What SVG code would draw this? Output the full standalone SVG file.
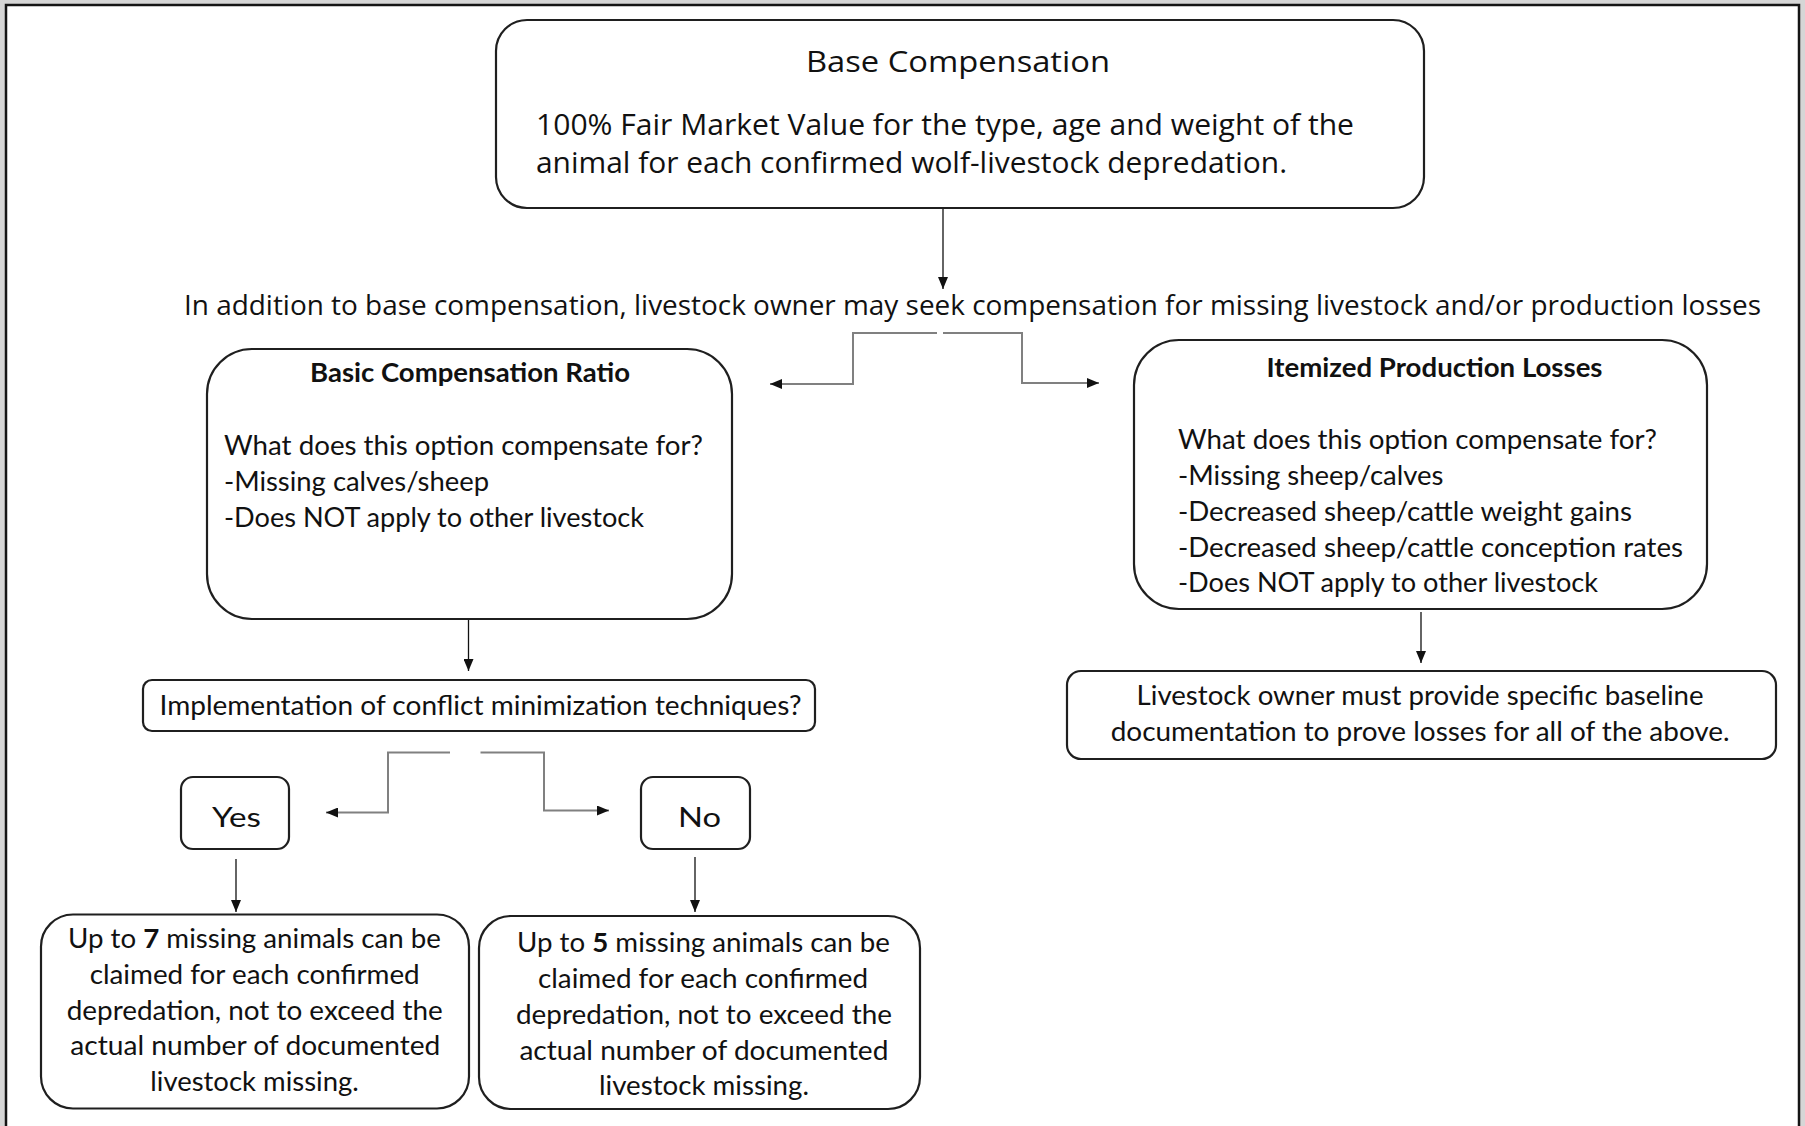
<svg xmlns="http://www.w3.org/2000/svg" width="1805" height="1126" viewBox="0 0 1805 1126">
<style>
.box{fill:#fff;stroke:#1f1f1f;stroke-width:2.2}
.t{font-family:Lato,"Liberation Sans",sans-serif;font-size:27px;fill:#111}
.b{font-weight:bold}
.s{font-family:"Open Sans","Noto Sans",sans-serif;fill:#111}
.cg{stroke:#808080;stroke-width:2;fill:none}
.cb{stroke:#111;stroke-width:1.3;fill:none}
</style>
<defs>
<marker id="ah" markerUnits="userSpaceOnUse" markerWidth="12" markerHeight="10" refX="12" refY="5" orient="auto">
<path d="M0,0 L12,5 L0,10 Z" fill="#111"/>
</marker>
</defs>
<rect x="0" y="0" width="1805" height="1126" fill="#d6d6d6"/>
<rect x="6" y="5" width="1793" height="1130" fill="#fff" stroke="#151515" stroke-width="2.5"/>

<g id="connectors">
<line class="cb" x1="943" y1="208" x2="943" y2="289" marker-end="url(#ah)"/>
<path class="cg" d="M937,333 H853 V384 H770" marker-end="url(#ah)"/>
<path class="cg" d="M943,333 H1022 V383 H1099" marker-end="url(#ah)"/>
<line class="cb" x1="468.5" y1="619" x2="468.5" y2="671" marker-end="url(#ah)"/>
<path class="cg" d="M450,752.5 H388 V812.5 H326" marker-end="url(#ah)"/>
<path class="cg" d="M480.5,752.5 H544 V810.5 H609" marker-end="url(#ah)"/>
<line class="cb" x1="236" y1="859" x2="236" y2="912" marker-end="url(#ah)"/>
<line class="cb" x1="695" y1="857" x2="695" y2="912" marker-end="url(#ah)"/>
<line class="cb" x1="1421" y1="612" x2="1421" y2="663" marker-end="url(#ah)"/>
</g>

<g id="base">
<rect class="box" x="496" y="20" width="928" height="188" rx="31"/>
<text class="s" x="806" y="72" font-size="29.5" textLength="304" lengthAdjust="spacingAndGlyphs">Base Compensation</text>
<text class="s" x="536" y="135" font-size="28.5" textLength="818" lengthAdjust="spacingAndGlyphs">100% Fair Market Value for the type, age and weight of the</text>
<text class="s" x="536" y="173" font-size="28.5" textLength="751" lengthAdjust="spacingAndGlyphs">animal for each confirmed wolf-livestock depredation.</text>
</g>

<g id="addition">
<text class="s" x="184" y="315" font-size="27" textLength="1577" lengthAdjust="spacingAndGlyphs">In addition to base compensation, livestock owner may seek compensation for missing livestock and/or production losses</text>
</g>

<g id="basic">
<rect class="box" x="207" y="349" width="525" height="270" rx="45"/>
<text class="t b" x="310" y="382" textLength="320" lengthAdjust="spacingAndGlyphs">Basic Compensation Ratio</text>
<text class="t" x="224" y="455" textLength="479" lengthAdjust="spacingAndGlyphs">What does this option compensate for?</text>
<text class="t" x="224" y="491" textLength="265" lengthAdjust="spacingAndGlyphs">-Missing calves/sheep</text>
<text class="t" x="224" y="527" textLength="420" lengthAdjust="spacingAndGlyphs">-Does NOT apply to other livestock</text>
</g>

<g id="implementation">
<rect class="box" x="143" y="680" width="672" height="51" rx="9"/>
<text class="t" x="159.5" y="715" textLength="642" lengthAdjust="spacingAndGlyphs">Implementation of conflict minimization techniques?</text>
</g>

<g id="yes">
<rect class="box" x="181" y="777" width="108" height="72" rx="12"/>
<text class="t" x="212" y="827" font-size="34" textLength="49" lengthAdjust="spacingAndGlyphs">Yes</text>
</g>

<g id="no">
<rect class="box" x="641" y="777" width="109" height="72" rx="12"/>
<text class="t" x="678" y="827" font-size="34" textLength="43" lengthAdjust="spacingAndGlyphs">No</text>
</g>

<g id="yes-result">
<rect class="box" x="41" y="914.5" width="428" height="194" rx="32"/>
<text class="t" x="68" y="948" textLength="373" lengthAdjust="spacingAndGlyphs">Up to <tspan class="b">7</tspan> missing animals can be</text>
<text class="t" x="89.7" y="984" textLength="330" lengthAdjust="spacingAndGlyphs">claimed for each confirmed</text>
<text class="t" x="66.7" y="1019.5" textLength="376" lengthAdjust="spacingAndGlyphs">depredation, not to exceed the</text>
<text class="t" x="70.3" y="1055" textLength="370" lengthAdjust="spacingAndGlyphs">actual number of documented</text>
<text class="t" x="150.3" y="1091" textLength="208.5" lengthAdjust="spacingAndGlyphs">livestock missing.</text>
</g>

<g id="no-result">
<rect class="box" x="479" y="916" width="441" height="193" rx="32"/>
<text class="t" x="517" y="952" textLength="373" lengthAdjust="spacingAndGlyphs">Up to <tspan class="b">5</tspan> missing animals can be</text>
<text class="t" x="538" y="988" textLength="330" lengthAdjust="spacingAndGlyphs">claimed for each confirmed</text>
<text class="t" x="516" y="1024" textLength="376" lengthAdjust="spacingAndGlyphs">depredation, not to exceed the</text>
<text class="t" x="519.4" y="1059.5" textLength="369" lengthAdjust="spacingAndGlyphs">actual number of documented</text>
<text class="t" x="599" y="1095" textLength="210" lengthAdjust="spacingAndGlyphs">livestock missing.</text>
</g>

<g id="itemized">
<rect class="box" x="1134" y="340" width="573" height="269" rx="45"/>
<text class="t b" x="1266.5" y="377" textLength="336" lengthAdjust="spacingAndGlyphs">Itemized Production Losses</text>
<text class="t" x="1178" y="449" textLength="479" lengthAdjust="spacingAndGlyphs">What does this option compensate for?</text>
<text class="t" x="1178" y="485" textLength="265.5" lengthAdjust="spacingAndGlyphs">-Missing sheep/calves</text>
<text class="t" x="1178" y="520.5" textLength="454" lengthAdjust="spacingAndGlyphs">-Decreased sheep/cattle weight gains</text>
<text class="t" x="1178" y="556.5" textLength="505" lengthAdjust="spacingAndGlyphs">-Decreased sheep/cattle conception rates</text>
<text class="t" x="1178" y="592" textLength="420" lengthAdjust="spacingAndGlyphs">-Does NOT apply to other livestock</text>
</g>

<g id="documentation">
<rect class="box" x="1067" y="671" width="709" height="88" rx="14"/>
<text class="t" x="1136.6" y="705" textLength="567" lengthAdjust="spacingAndGlyphs">Livestock owner must provide specific baseline</text>
<text class="t" x="1110.7" y="741" textLength="619" lengthAdjust="spacingAndGlyphs">documentation to prove losses for all of the above.</text>
</g>
</svg>
